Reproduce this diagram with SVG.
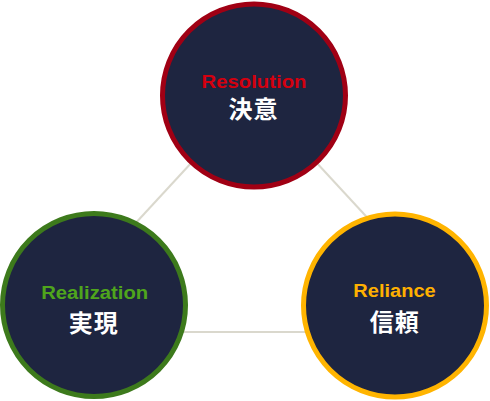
<svg xmlns="http://www.w3.org/2000/svg" width="490" height="401" viewBox="0 0 490 401">
<style>
.c{fill:#1e2540;stroke-width:5}
.en{font-family:"Liberation Sans",Arial,sans-serif;font-weight:bold;font-size:17.5px;text-anchor:middle}
.jp{font-family:"Noto Sans CJK JP","Noto Sans CJK SC",sans-serif;font-weight:bold;font-size:24px;fill:#ffffff;text-anchor:middle;letter-spacing:1px}
.ln{stroke:#dad8cd;stroke-width:2;fill:none}
</style>
<rect width="490" height="401" fill="#ffffff"/>
<g id="connectors">
<line class="ln" x1="254" y1="95" x2="35" y2="332"/>
<line class="ln" x1="254" y1="95" x2="473" y2="332"/>
<line class="ln" x1="35" y1="332" x2="473" y2="332"/>
</g>
<g id="resolution">
<circle class="c" cx="254" cy="95.5" r="91.5" stroke="#a00014"/>
<text class="en" x="254" y="88" fill="#d4000f" textLength="105" lengthAdjust="spacingAndGlyphs">Resolution</text>
<text class="jp" x="253.5" y="118">決意</text>
</g>
<g id="realization">
<circle class="c" cx="94" cy="305" r="91.5" stroke="#3d7a1c"/>
<text class="en" x="94.7" y="298.5" fill="#4fa51c" textLength="107" lengthAdjust="spacingAndGlyphs">Realization</text>
<text class="jp" x="93.8" y="331.5">実現</text>
</g>
<g id="reliance">
<circle class="c" cx="395" cy="305.5" r="91.5" stroke="#ffb400"/>
<text class="en" x="394.5" y="297" fill="#ffb000" textLength="82.4" lengthAdjust="spacingAndGlyphs">Reliance</text>
<text class="jp" x="394.8" y="331">信頼</text>
</g>
</svg>
